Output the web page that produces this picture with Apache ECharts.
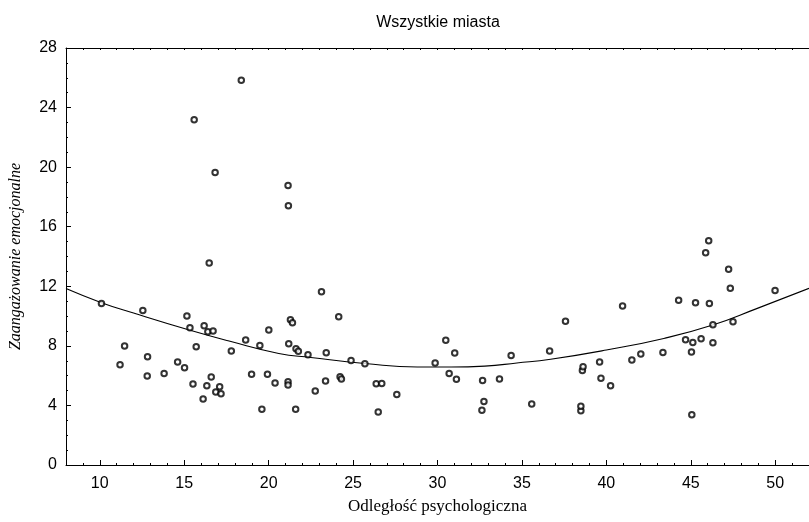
<!DOCTYPE html>
<html>
<head>
<meta charset="utf-8">
<title>Wszystkie miasta</title>
<script src="https://cdn.jsdelivr.net/npm/echarts@6/dist/echarts.min.js"></script>
<style>
  html, body { margin: 0; padding: 0; background: #fff; }
  #main { width: 809px; height: 522px; }
</style>
</head>
<body>
<div id="main"></div>
<script>
// punkty pomiarowe (odległość, zaangażowanie)
var distX = [10.1, 11.2, 11.47, 12.55, 12.83, 12.81, 13.81, 14.61, 15.02, 15.16,
  15.34, 15.52, 15.59, 15.71, 16.12, 16.18, 16.34, 16.4, 16.48, 16.6,
  16.71, 16.83, 16.87, 17.1, 17.18, 17.79, 18.38, 18.64, 18.99, 19.48,
  19.6, 19.93, 20.01, 20.38, 21.15, 21.17, 21.15, 21.15, 21.19, 21.29,
  21.41, 21.6, 21.62, 21.76, 22.33, 22.76, 23.13, 23.37, 23.41, 24.15,
  24.23, 24.31, 24.88, 25.7, 26.37, 26.49, 26.7, 27.59, 29.86, 30.49,
  30.69, 31.02, 31.12, 32.63, 32.67, 32.75, 33.67, 34.36, 35.58, 36.64,
  37.58, 38.58, 38.62, 38.49, 38.49, 39.6, 39.68, 40.25, 40.96, 41.51,
  42.04, 43.35, 44.28, 44.69, 45.04, 45.06, 45.12, 45.28, 45.61, 45.88,
  46.06, 46.1, 46.31, 46.31, 47.24, 47.34, 47.5, 49.99];
var engageY = [10.85, 6.73, 7.99, 10.38, 7.27, 5.97, 6.15, 6.91, 6.53, 10.0,
  9.22, 5.44, 23.18, 7.94, 4.43, 9.35, 5.32, 8.95, 13.56, 5.91,
  8.99, 19.64, 4.9, 5.26, 4.79, 7.65, 25.84, 8.39, 6.1, 8.03,
  3.74, 6.1, 9.06, 5.5, 18.77, 17.4, 5.59, 5.37, 8.14, 9.75,
  9.55, 3.74, 7.81, 7.63, 7.4, 4.97, 11.63, 5.64, 7.54, 9.95,
  5.93, 5.77, 7.02, 6.8, 5.46, 3.56, 5.48, 4.74, 6.85, 8.37,
  6.15, 7.52, 5.75, 3.67, 5.68, 4.27, 5.77, 7.36, 4.09, 7.65,
  9.66, 6.35, 6.6, 3.65, 3.95, 6.91, 5.82, 5.32, 10.67, 7.05,
  7.45, 7.56, 11.07, 8.41, 7.58, 3.38, 8.23, 10.89, 8.48, 14.25,
  15.06, 10.85, 9.42, 8.21, 13.15, 11.86, 9.62, 11.72];

// krzywa dopasowania
var fitX = [8, 10.1, 12, 15.3, 17.6, 20.6, 22.5, 25.7, 28.8, 30.8, 32.8, 34.7, 36.7, 40, 43.4, 46.3, 48.9, 52];
var fitY = [11.85, 10.9, 10.2, 9.06, 8.34, 7.49, 7.22, 6.82, 6.58, 6.58, 6.64, 6.85, 7.1, 7.72, 8.5, 9.4, 10.5, 11.86];

// etykiety osi
var xTickLabels = [10, 15, 20, 25, 30, 35, 40, 45, 50];
var yTickLabels = [0, 4, 8, 12, 16, 20, 24, 28];

var points = distX.map(function (x, i) { return [x, engageY[i]]; });
var fitLine = fitX.map(function (x, i) { return [x, fitY[i]]; });

var myChart = echarts.init(document.getElementById('main'));
var black = '#000';
var tickFont = '"Liberation Sans Narrow", "Liberation Sans", Arial, sans-serif';

var option = {
  animation: false,
  backgroundColor: '#fff',
  title: {
    text: 'Wszystkie miasta',
    left: 433,
    top: 10,
    textAlign: 'center',
    textStyle: { fontFamily: '"Liberation Sans", Arial, sans-serif', fontWeight: 'normal', fontSize: 16, color: black }
  },
  grid: { left: 66, right: 0, top: 48, bottom: 57 },
  xAxis: [
    {
      type: 'value', min: 8, max: 52, position: 'bottom',
      axisLine: { show: true, lineStyle: { color: black, width: 1 } },
      axisTick: { show: true, inside: true, length: 5, customValues: xTickLabels, lineStyle: { color: black } },
      axisLabel: { customValues: xTickLabels, color: black, fontSize: 16, fontFamily: tickFont, margin: 11 },
      splitLine: { show: false },
      name: 'Odległość psychologiczna',
      nameLocation: 'middle',
      nameGap: 33,
      nameTextStyle: { fontFamily: '"Liberation Serif", "Times New Roman", serif', fontSize: 17, color: black }
    },
    {
      type: 'value', min: 8, max: 52, interval: 1, position: 'bottom',
      axisLine: { show: false },
      axisTick: { show: true, inside: true, length: 2, lineStyle: { color: black } },
      axisLabel: { show: false },
      splitLine: { show: false }
    },
    {
      type: 'value', min: 8, max: 52, interval: 1, position: 'top',
      axisLine: { show: true, lineStyle: { color: black, width: 1 } },
      axisTick: { show: true, inside: true, length: 2, lineStyle: { color: black } },
      axisLabel: { show: false },
      splitLine: { show: false }
    }
  ],
  yAxis: {
    type: 'value', min: 0, max: 28, interval: 4,
    axisLine: { show: true, lineStyle: { color: black, width: 1 } },
    axisTick: { show: true, inside: true, length: 5, lineStyle: { color: black } },
    minorTick: { show: true, splitNumber: 4, length: 2, lineStyle: { color: black } },
    axisLabel: {
      color: black, fontSize: 16, fontFamily: tickFont, margin: 9,
      formatter: function (v) { return yTickLabels.indexOf(v) >= 0 ? String(v) : ''; }
    },
    splitLine: { show: false },
    name: 'Zaangażowanie emocjonalne',
    nameLocation: 'middle',
    nameGap: 42,
    nameTextStyle: { fontFamily: '"Liberation Serif", "Times New Roman", serif', fontStyle: 'italic', fontSize: 16, color: black }
  },
  series: [
    {
      type: 'line',
      data: fitLine,
      smooth: true,
      showSymbol: false,
      lineStyle: { color: black, width: 1.1 },
      z: 1
    },
    {
      type: 'scatter',
      data: points,
      symbol: 'emptyCircle',
      symbolSize: 5.5,
      itemStyle: { color: black, borderColor: black, borderWidth: 0.9 },
      z: 2
    }
  ]
};

myChart.setOption(option);
</script>
</body>
</html>
